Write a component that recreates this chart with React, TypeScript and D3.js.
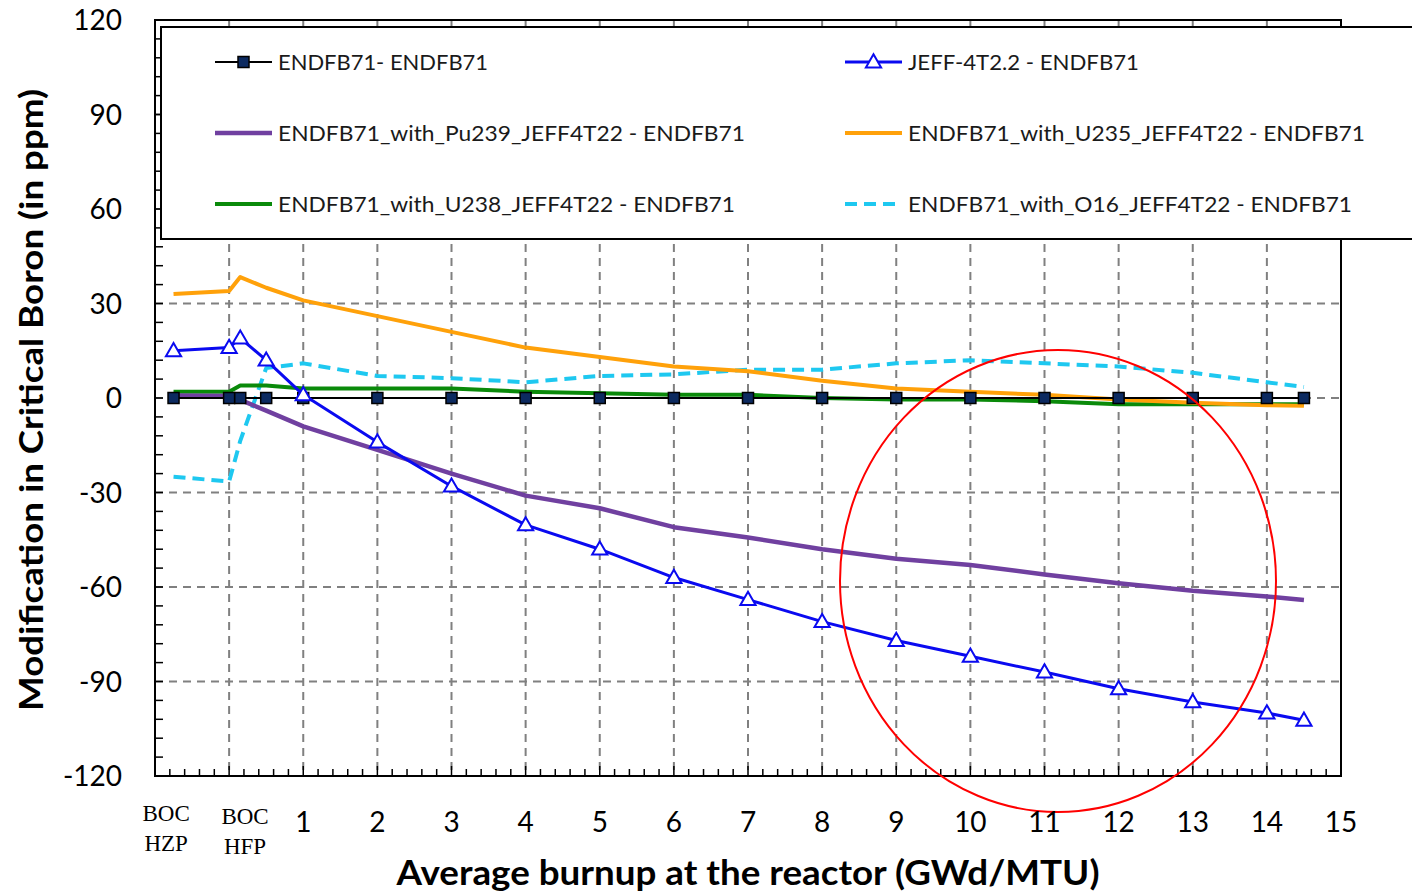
import React from "react";
import * as d3 from "d3";

const xPos = [-0.75, 0, 0.15, 0.5, 1, 2, 3, 4, 5, 6, 7, 8, 9, 10, 11, 12, 13, 14, 14.5];
const refVals = [0, 0, 0, 0, 0, 0, 0, 0, 0, 0, 0, 0, 0, 0, 0, 0, 0, 0, 0];
const jeffVals = [15, 16, 19, 12, 1, -14, -28, -40.3, -48, -57, -64, -71, -77, -82, -87, -92.3, -96.5, -100, -102.3];
const pu239Vals = [0.8, 0.6, -0.6, -4, -9, -16.5, -24, -31, -35, -41, -44.3, -48, -51, -53, -56, -58.8, -61.2, -63, -64.1];
const u235Vals = [33, 34, 38.4, 35, 31, 26, 21, 16, 13, 10, 8.5, 5.5, 3, 2, 1, -0.5, -1.5, -2.3, -2.5];
const u238Vals = [2, 2, 4, 4, 3, 3, 3, 2, 1.5, 1, 1, 0, -0.5, -0.5, -1, -2, -2, -2, -2];
const o16Vals = [-25, -26.5, -13.6, 9.5, 11, 7, 6.3, 5, 7, 7.5, 9, 9, 11, 12, 11, 10, 8, 5, 3.5];

const yTicks = [-120, -90, -60, -30, 0, 30, 60, 90, 120];
const xTickLabels = ["1", "2", "3", "4", "5", "6", "7", "8", "9", "10", "11", "12", "13", "14", "15"];
const xTickValues = [1, 2, 3, 4, 5, 6, 7, 8, 9, 10, 11, 12, 13, 14, 15];
const bocLabels = [
  { x: -0.85, lines: ["BOC", "HZP"] },
  { x: 0.215, lines: ["BOC", "HFP"] },
];

const legendNames = [
  "ENDFB71- ENDFB71",
  "JEFF-4T2.2 - ENDFB71",
  "ENDFB71_with_Pu239_JEFF4T22 - ENDFB71",
  "ENDFB71_with_U235_JEFF4T22 - ENDFB71",
  "ENDFB71_with_U238_JEFF4T22 - ENDFB71",
  "ENDFB71_with_O16_JEFF4T22 - ENDFB71",
];

const W = 1412;
const H = 892;
const L = 155, R = 1341, T = 20, B = 776;

const x = d3.scaleLinear().domain([-1, 15]).range([L, R]);
const y = d3.scaleLinear().domain([-120, 120]).range([B, T]);

const FONT = "Lato, 'Open Sans', sans-serif";

type S = { name: string; vals: number[]; color: string; width: number; dash?: string; marker?: "square" | "tri" };

const series: S[] = [
  { name: legendNames[5], vals: o16Vals, color: "#1ec8f0", width: 4, dash: "12,7" },
  { name: legendNames[4], vals: u238Vals, color: "#0a8a0a", width: 4 },
  { name: legendNames[3], vals: u235Vals, color: "#ffa10a", width: 4 },
  { name: legendNames[2], vals: pu239Vals, color: "#7040a0", width: 4.5 },
  { name: legendNames[0], vals: refVals, color: "#000000", width: 2, marker: "square" },
  { name: legendNames[1], vals: jeffVals, color: "#0a0af0", width: 3, marker: "tri" },
];

const line = d3.line<number>().x((_, i) => x(xPos[i])).y((d) => y(d));
const triPath = d3.symbol().type(d3.symbolTriangle).size(100)() as string;

function Marker({ kind, cx, cy }: { kind?: string; cx: number; cy: number }) {
  if (kind === "square")
    return <rect x={cx - 5.5} y={cy - 5.5} width={11} height={11} fill="#0c2a60" stroke="#000" strokeWidth={1.5} />;
  if (kind === "tri")
    return <path d={triPath} transform={`translate(${cx},${cy + 1})`} fill="#fff" stroke="#0a0af0" strokeWidth={2} />;
  return null;
}

export default function App() {
  const minorX = d3.range(-1, 15.001, 0.2);
  const minorY = d3.range(-120, 120.001, 6);
  const gridX = d3.range(0, 15, 1);
  const gridY = [-90, -60, -30, 0, 30, 60, 90];

  const legendItems = [
    { s: series[4], col: 0, row: 0 },
    { s: series[5], col: 1, row: 0 },
    { s: series[3], col: 0, row: 1 },
    { s: series[2], col: 1, row: 1 },
    { s: series[1], col: 0, row: 2 },
    { s: series[0], col: 1, row: 2 },
  ];
  const legendTextLen = [210, 231, 467, 457, 457, 444];

  return (
    <svg width={W} height={H} style={{ position: "absolute", left: 0, top: 0, background: "#fff" }}>
      <rect x={0} y={0} width={W} height={H} fill="#fff" />
      {gridX.map((g) => (
        <line key={"gx" + g} x1={x(g)} x2={x(g)} y1={T} y2={B} stroke="#808080" strokeWidth={2} strokeDasharray="8,6" />
      ))}
      {gridY.map((g) => (
        <line key={"gy" + g} x1={L} x2={R} y1={y(g)} y2={y(g)} stroke="#808080" strokeWidth={2} strokeDasharray="8,6" />
      ))}
      {minorX.map((v, i) => (
        <line key={"mx" + i} x1={x(v)} x2={x(v)} y1={B} y2={B - (Math.abs(v - Math.round(v)) < 1e-6 ? 10 : 7)} stroke="#000" strokeWidth={1.5} />
      ))}
      {minorY.map((v, i) => (
        <line key={"my" + i} x1={L} x2={L + 8} y1={y(v)} y2={y(v)} stroke="#000" strokeWidth={1.5} />
      ))}
      <rect x={L} y={T} width={R - L} height={B - T} fill="none" stroke="#000" strokeWidth={2} />

      {series.map((s) => (
        <g key={s.name}>
          <path d={line(s.vals) as string} fill="none" stroke={s.color} strokeWidth={s.width} strokeDasharray={s.dash} strokeLinejoin="round" />
          {s.marker && s.vals.map((v, i) => <Marker key={i} kind={s.marker} cx={x(xPos[i])} cy={y(v)} />)}
        </g>
      ))}

      <ellipse cx={1058} cy={581} rx={218} ry={231} fill="none" stroke="#ff0000" strokeWidth={2} />

      <rect x={161} y={27} width={1270} height={212} fill="#fff" stroke="#000" strokeWidth={2} />
      {legendItems.map((it, k) => {
        const lx = it.col === 0 ? 215 : 845;
        const ly = 62 + it.row * 71;
        const s = it.s;
        return (
          <g key={"leg" + k}>
            <line x1={lx} x2={lx + 57} y1={ly} y2={ly} stroke={s.color} strokeWidth={s.width} strokeDasharray={s.dash} />
            {s.marker && <Marker kind={s.marker} cx={lx + 28.5} cy={ly} />}
            <text x={lx + 63} y={ly + 8} fontFamily={FONT} fontSize={22} fill="#1a1a1a" textLength={legendTextLen[legendNames.indexOf(s.name)]} lengthAdjust="spacingAndGlyphs">
              {s.name}
            </text>
          </g>
        );
      })}

      {yTicks.map((t) => (
        <text key={"yt" + t} x={122} y={y(t) + 10} textAnchor="end" fontFamily={FONT} fontSize={28} fill="#000">
          {t}
        </text>
      ))}
      {xTickValues.map((t, i) => (
        <text key={"xt" + t} x={x(t)} y={832} textAnchor="middle" fontFamily={FONT} fontSize={28} fill="#000">
          {xTickLabels[i]}
        </text>
      ))}
      {bocLabels.map((b, i) => {
        const cx = x(b.x) + (i === 0 ? 0 : 0);
        return (
          <text key={"boc" + i} textAnchor="middle" fontFamily="'Liberation Serif', 'DejaVu Serif', serif" fontSize={23} fill="#000">
            <tspan x={cx} y={821 + i * 3}>{b.lines[0]}</tspan>
            <tspan x={cx} y={851 + i * 3}>{b.lines[1]}</tspan>
          </text>
        );
      })}

      <text x={748} y={885} textAnchor="middle" fontFamily={FONT} fontWeight="bold" fontSize={34} fill="#000" textLength={703} lengthAdjust="spacingAndGlyphs">
        Average burnup at the reactor (GWd/MTU)
      </text>
      <text transform={`translate(43,400) rotate(-90)`} textAnchor="middle" fontFamily={FONT} fontWeight="bold" fontSize={32} fill="#000" textLength={622} lengthAdjust="spacingAndGlyphs">
        Modification in Critical Boron (in ppm)
      </text>
    </svg>
  );
}
